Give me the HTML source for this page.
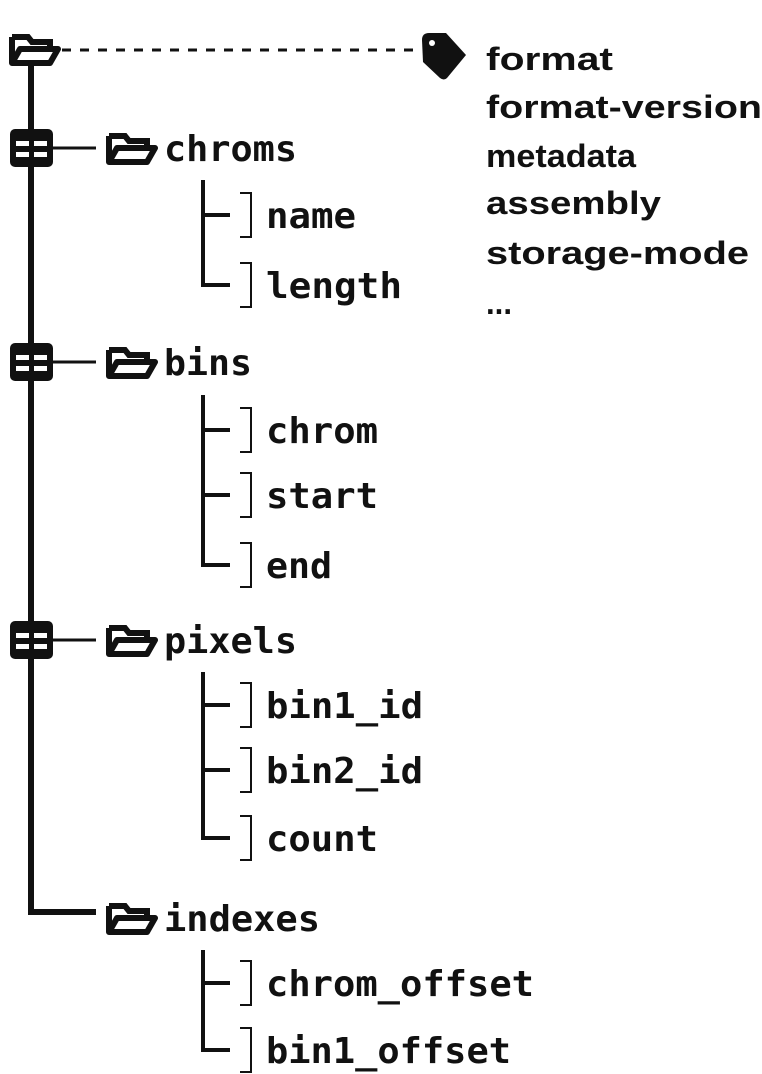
<!DOCTYPE html>
<html><head><meta charset="utf-8"><style>
html,body{margin:0;padding:0;background:#fff;}
svg{display:block}
.m{font-family:"DejaVu Sans Mono","Liberation Mono",monospace;font-weight:bold;font-size:36px;fill:#111}
.s{font-family:"Liberation Sans","DejaVu Sans",sans-serif;font-weight:bold;font-size:32px;fill:#111}
</style></head><body>
<svg width="762" height="1074" viewBox="0 0 762 1074" xmlns="http://www.w3.org/2000/svg">
<defs>
<g id="fold">
<path d="M2 2 H18 L22 7 H40 V12" fill="none" stroke="#111" stroke-width="6"/>
<path d="M2 2 V28 H40 L48 14 H10 L2 28" fill="none" stroke="#111" stroke-width="6" stroke-linejoin="round"/>
</g>
<g id="tbl">
<rect x="0" y="0" width="43" height="38" rx="5" fill="#111"/>
<rect x="6" y="12" width="13" height="5" fill="#fff"/>
<rect x="24" y="12" width="13" height="5" fill="#fff"/>
<rect x="6" y="23" width="13" height="5" fill="#fff"/>
<rect x="24" y="23" width="13" height="5" fill="#fff"/>
</g>
<g id="br"><path d="M240 -22 H251 V22 H240" fill="none" stroke="#111" stroke-width="2"/></g>
</defs>
<g stroke="#111" fill="none">
<path d="M31 65 V912 H96" stroke-width="6"/>
<path d="M62 50 H415" stroke-width="3" stroke-dasharray="9,9"/>
<path d="M52 148 H96 M52 362 H96 M52 640 H96" stroke-width="3"/>
<path d="M203 180 V285 H230 M203 215 H230" stroke-width="4"/>
<path d="M203 395 V565 H230 M203 430 H230 M203 495 H230" stroke-width="4"/>
<path d="M203 672 V838 H230 M203 705 H230 M203 770 H230" stroke-width="4"/>
<path d="M203 950 V1050 H230 M203 983 H230" stroke-width="4"/>
</g>
<use href="#fold" x="10" y="35"/>
<use href="#tbl" x="10" y="129"/>
<use href="#tbl" x="10" y="343"/>
<use href="#tbl" x="10" y="621"/>
<use href="#fold" x="107" y="134"/>
<use href="#fold" x="107" y="348"/>
<use href="#fold" x="107" y="626"/>
<use href="#fold" x="107" y="904"/>
<path d="M422 40 Q422 33 429 33 H446 L466 55 L447 78 Q444 81 440 78 L423 62 Z" fill="#111"/>
<circle cx="432" cy="43" r="3" fill="#fff"/>
<use href="#br" y="215"/><use href="#br" y="285"/>
<use href="#br" y="430"/><use href="#br" y="495"/><use href="#br" y="565"/>
<use href="#br" y="705"/><use href="#br" y="770"/><use href="#br" y="838"/>
<use href="#br" y="983"/><use href="#br" y="1050"/>
<text class="m" x="164" y="161" textLength="133" lengthAdjust="spacingAndGlyphs">chroms</text>
<text class="m" x="164" y="375" textLength="88" lengthAdjust="spacingAndGlyphs">bins</text>
<text class="m" x="164" y="653" textLength="133" lengthAdjust="spacingAndGlyphs">pixels</text>
<text class="m" x="164" y="931" textLength="156" lengthAdjust="spacingAndGlyphs">indexes</text>
<text class="m" x="266" y="228" textLength="90" lengthAdjust="spacingAndGlyphs">name</text>
<text class="m" x="266" y="298" textLength="136" lengthAdjust="spacingAndGlyphs">length</text>
<text class="m" x="266" y="443" textLength="112" lengthAdjust="spacingAndGlyphs">chrom</text>
<text class="m" x="266" y="508" textLength="112" lengthAdjust="spacingAndGlyphs">start</text>
<text class="m" x="266" y="578" textLength="66" lengthAdjust="spacingAndGlyphs">end</text>
<text class="m" x="266" y="718" textLength="157" lengthAdjust="spacingAndGlyphs">bin1_id</text>
<text class="m" x="266" y="783" textLength="157" lengthAdjust="spacingAndGlyphs">bin2_id</text>
<text class="m" x="266" y="851" textLength="112" lengthAdjust="spacingAndGlyphs">count</text>
<text class="m" x="266" y="996" textLength="268" lengthAdjust="spacingAndGlyphs">chrom_offset</text>
<text class="m" x="266" y="1063" textLength="245" lengthAdjust="spacingAndGlyphs">bin1_offset</text>
<text class="s" x="486" y="70" textLength="127" lengthAdjust="spacingAndGlyphs">format</text>
<text class="s" x="486" y="118" textLength="276" lengthAdjust="spacingAndGlyphs">format-version</text>
<text class="s" x="486" y="167" textLength="150" lengthAdjust="spacingAndGlyphs">metadata</text>
<text class="s" x="486" y="214" textLength="175" lengthAdjust="spacingAndGlyphs">assembly</text>
<text class="s" x="486" y="264" textLength="263" lengthAdjust="spacingAndGlyphs">storage-mode</text>
<text class="s" x="486" y="314" textLength="26" lengthAdjust="spacingAndGlyphs">...</text>
</svg>
</body></html>
